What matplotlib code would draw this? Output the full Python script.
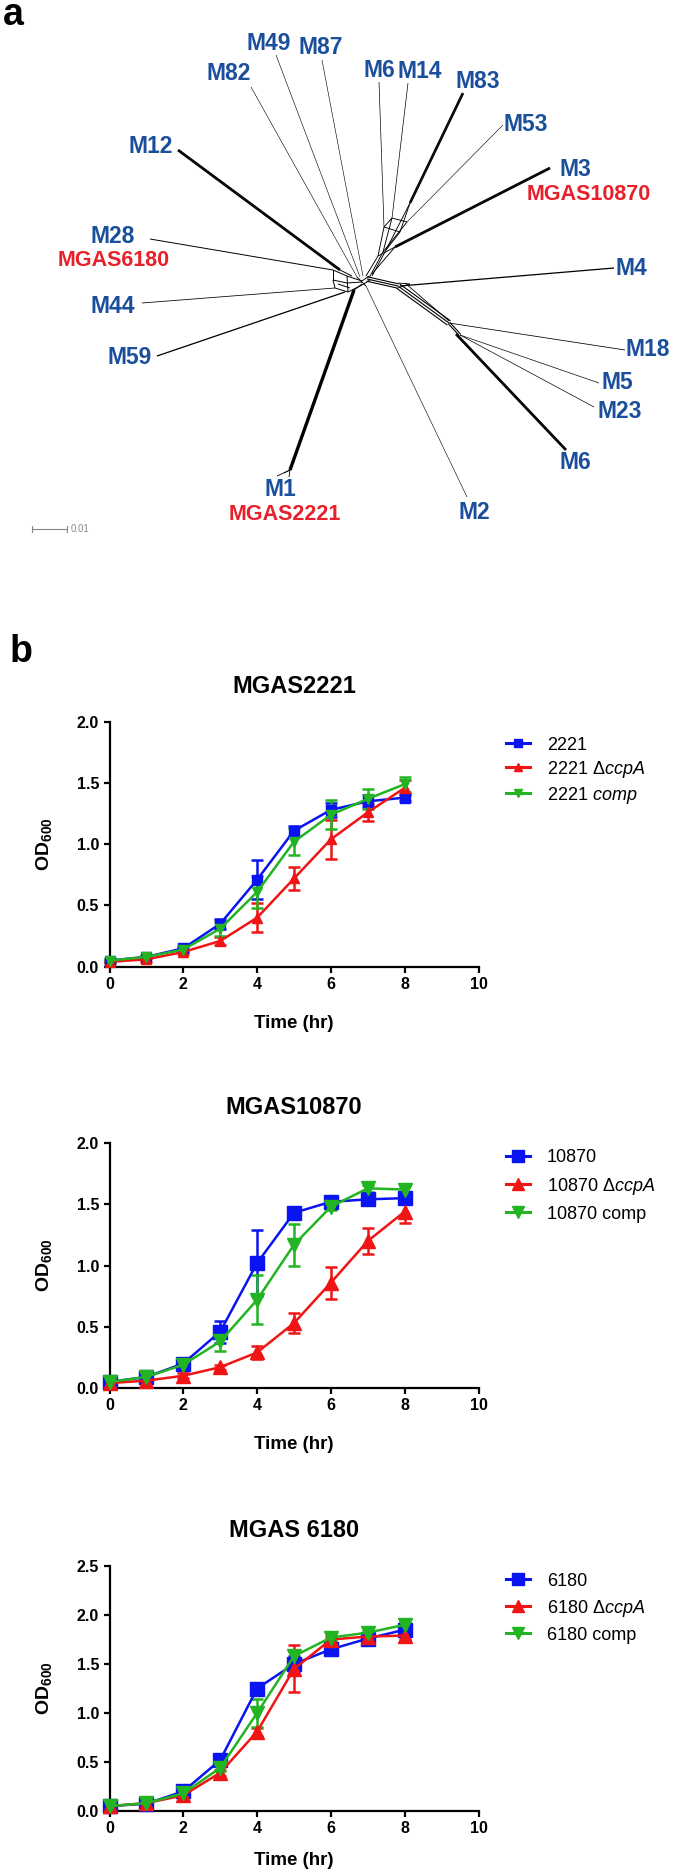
import matplotlib
matplotlib.use('Agg')
import matplotlib.pyplot as plt
import numpy as np

plt.rcParams['font.family'] = ['Liberation Sans', 'DejaVu Sans']
plt.rcParams['mathtext.fontset'] = 'custom'
plt.rcParams['mathtext.rm'] = 'Liberation Sans'
plt.rcParams['mathtext.it'] = 'Liberation Sans:italic'
plt.rcParams['mathtext.bf'] = 'Liberation Sans:bold'

# ---- panel a : split network (figure pixel coords) ----
tip_names = ['M12', 'M28', 'M44', 'M59', 'M1', 'M2', 'M49', 'M82', 'M87', 'M6', 'M14',
             'M83', 'M53', 'M3', 'M4', 'M18', 'M5', 'M23', 'M6']
tip_x = [178, 150, 142, 157, 290, 467, 276, 251, 322, 379, 408, 463, 503, 550, 614, 625, 599, 594, 566]
tip_y = [150, 239, 303, 356, 470, 497, 55, 87, 60, 82, 83, 93, 125, 168, 268, 350, 383, 407, 450]
join_x = [340, 333, 335, 345, 354, 366, 360, 357, 363, 384, 392, 410, 407, 395, 400, 449, 460, 460, 456]
join_y = [270, 270, 288, 292, 290, 286, 277, 277, 276, 227, 218, 203, 222, 247, 286, 323, 335, 335, 334]
label_x = [151, 113, 113, 130, 280, 474, 269, 229, 321, 379, 420, 478, 526, 575, 631, 648, 617, 620, 575]
label_y = [146, 236, 306, 357, 489, 512, 43, 73, 47, 70, 71, 81, 124, 169, 268, 349, 382, 411, 462]
strain_names = ['MGAS10870', 'MGAS6180', 'MGAS2221']
strain_x = [589, 114, 285]
strain_y = [194, 260, 514]

edge_lw = [1.6, 1.0, 0.8, 1.3, 2.2, 0.6, 0.6, 0.6, 0.6, 0.7, 0.7, 1.5, 0.6, 1.6, 1.3, 0.8, 0.7, 0.7, 1.6]

# ---- panel b : growth curves ----
hours = [0, 1, 2, 3, 4, 5, 6, 7, 8]

wt_2221 = [0.05, 0.08, 0.15, 0.35, 0.71, 1.11, 1.28, 1.35, 1.38]
wt_2221_sd = [0.01, 0.01, 0.02, 0.04, 0.16, 0.04, 0.06, 0.05, 0.03]
ccpa_2221 = [0.04, 0.06, 0.12, 0.21, 0.40, 0.72, 1.04, 1.26, 1.46]
ccpa_2221_sd = [0.01, 0.02, 0.02, 0.03, 0.12, 0.09, 0.16, 0.07, 0.06]
comp_2221 = [0.05, 0.08, 0.14, 0.31, 0.61, 1.02, 1.24, 1.37, 1.49]
comp_2221_sd = [0.01, 0.01, 0.02, 0.06, 0.13, 0.11, 0.12, 0.08, 0.06]

wt_10870 = [0.05, 0.09, 0.20, 0.46, 1.02, 1.43, 1.52, 1.54, 1.55]
wt_10870_sd = [0.01, 0.02, 0.03, 0.09, 0.27, 0.03, 0.03, 0.03, 0.04]
ccpa_10870 = [0.04, 0.06, 0.10, 0.17, 0.29, 0.53, 0.86, 1.20, 1.44]
ccpa_10870_sd = [0.01, 0.01, 0.02, 0.02, 0.05, 0.08, 0.13, 0.11, 0.09]
comp_10870 = [0.05, 0.09, 0.19, 0.38, 0.72, 1.17, 1.48, 1.63, 1.62]
comp_10870_sd = [0.01, 0.02, 0.02, 0.08, 0.20, 0.17, 0.03, 0.03, 0.03]

wt_6180 = [0.05, 0.075, 0.20, 0.52, 1.25, 1.50, 1.65, 1.76, 1.85]
wt_6180_sd = [0.01, 0.01, 0.02, 0.05, 0.05, 0.08, 0.05, 0.05, 0.06]
ccpa_6180 = [0.05, 0.08, 0.16, 0.39, 0.81, 1.45, 1.75, 1.78, 1.79]
ccpa_6180_sd = [0.01, 0.01, 0.02, 0.03, 0.04, 0.24, 0.03, 0.03, 0.03]
comp_6180 = [0.05, 0.08, 0.18, 0.44, 1.00, 1.58, 1.77, 1.82, 1.90]
comp_6180_sd = [0.01, 0.01, 0.02, 0.03, 0.14, 0.05, 0.03, 0.03, 0.03]

BLUE_LBL = '#1b4f9c'
RED_LBL = '#e8202b'
C_WT = '#0a14f0'
C_KO = '#f01414'
C_COMP = '#22b422'

fig = plt.figure(figsize=(6.75, 18.69), dpi=100)

# tree canvas in pixel units
ta = fig.add_axes([0, 0, 1, 1])
ta.set_xlim(0, 675)
ta.set_ylim(1869, 0)
ta.axis('off')


def edge(p, q, lw, n=1, gap=1.6):
    p = np.array(p, float)
    q = np.array(q, float)
    d = q - p
    nrm = np.array([-d[1], d[0]]) / np.hypot(*d)
    for k in range(n):
        off = (k - (n - 1) / 2) * gap * nrm
        ta.plot([p[0] + off[0], q[0] + off[0]], [p[1] + off[1], q[1] + off[1]],
                color='black', lw=lw, solid_capstyle='butt')


for i in range(len(tip_names)):
    n = 2 if edge_lw[i] > 1.4 else 1
    edge((tip_x[i], tip_y[i]), (join_x[i], join_y[i]), edge_lw[i] * 0.7, n=n, gap=1.2)

# central boxes
for a, b in [((333, 270), (347, 276)), ((347, 276), (362, 281)), ((335, 288), (348, 292)),
             ((348, 292), (362, 285)), ((333, 280), (335, 288)), ((333, 270), (333, 280)),
             ((347, 276), (348, 292)), ((333, 280), (347, 283)), ((347, 283), (362, 282)),
             ((340, 270), (352, 276)), ((354, 290), (362, 284)), ((362, 281), (369, 276)),
             ((357, 277), (366, 286)), ((362, 285), (370, 280)), ((338, 284), (350, 288))]:
    edge(a, b, 0.7)
# upper web
for a, b in [((366, 276), (378, 256)), ((369, 278), (383, 252)), ((372, 276), (386, 250)),
             ((378, 256), (384, 227)), ((383, 252), (392, 218)), ((386, 250), (410, 203)),
             ((383, 252), (407, 222)), ((384, 227), (392, 218)), ((392, 218), (407, 222)),
             ((378, 256), (395, 247)), ((372, 274), (395, 247)), ((386, 250), (400, 232)),
             ((384, 227), (400, 232)), ((400, 232), (410, 203))]:
    edge(a, b, 0.65)
# right bundle
edge((367, 279), (398, 286), 0.8, n=3, gap=2.2)
edge((398, 286), (449, 323), 0.8, n=3, gap=2.6)
edge((405, 283), (449, 321), 0.6)
edge((449, 323), (460, 335), 0.8, n=2, gap=2.0)
edge((398, 283), (410, 284), 0.6)
edge((398, 288), (410, 284), 0.6)
# M1 fork
for dx, dy in [(-13, 6), (-6, 3), (-1, 7)]:
    edge((290, 470), (290 + dx, 470 + dy), 0.6)

for i, name in enumerate(tip_names):
    ta.text(label_x[i], label_y[i], name, color=BLUE_LBL, fontsize=16.5, fontweight='bold',
            ha='center', va='center')
for i, name in enumerate(strain_names):
    ta.text(strain_x[i], strain_y[i], name, color=RED_LBL, fontsize=15.5, fontweight='bold',
            ha='center', va='center')

# scale bar
ta.plot([32, 67], [529, 529], color='#888888', lw=0.8)
ta.plot([32, 32], [526, 532], color='#888888', lw=0.8)
ta.plot([67, 67], [526, 532], color='#888888', lw=0.8)
ta.text(71, 529, '0.01', color='#888888', fontsize=7, va='center', ha='left')

ta.text(3, 25, 'a', fontsize=27, fontweight='bold', va='baseline', ha='left')
ta.text(10, 662, 'b', fontsize=27, fontweight='bold', va='baseline', ha='left')

# ---- growth panels ----
panels = [
    ('MGAS2221', 966.7, 2.0, [wt_2221, ccpa_2221, comp_2221], [wt_2221_sd, ccpa_2221_sd, comp_2221_sd],
     ['2221', r'2221 $\mathit{Δccp A}$', r'2221 $\mathit{comp}$'], 7, 747, 26, 48),
    ('MGAS10870', 1388, 2.0, [wt_10870, ccpa_10870, comp_10870], [wt_10870_sd, ccpa_10870_sd, comp_10870_sd],
     ['10870', r'10870 $\mathit{Δccp A}$', '10870 comp'], 10, 1160, 30, 48),
    ('MGAS 6180', 1811, 2.5, [wt_6180, ccpa_6180, comp_6180], [wt_6180_sd, ccpa_6180_sd, comp_6180_sd],
     ['6180', r'6180 $\mathit{Δccp A}$', '6180 comp'], 10, 1583, 29, 41),
]
markers = ['s', '^', 'v']
colors = [C_WT, C_KO, C_COMP]

for title, ybot, ymax, series, sds, labels, ms, row1, spacing, xlab_off in panels:
    ax = fig.add_axes([109.5 / 675, (1869 - ybot) / 1869, 369 / 675, 245 / 1869])
    ax.patch.set_alpha(0)
    handles = []
    order = [0, 1, 2] if title == 'MGAS2221' else [1, 2, 0]
    for k in order:
        ax.errorbar(hours, series[k], yerr=sds[k], fmt='none', ecolor=colors[k], elinewidth=1.8,
                    capsize=4, capthick=1.8, clip_on=False, zorder=2 + k * 0.1)
        ax.plot(hours, series[k], color=colors[k], marker=markers[k], ms=ms, lw=1.8,
                clip_on=False, zorder=3 + k * 0.1)
    for k in range(3):
        ln = matplotlib.lines.Line2D([], [], color=colors[k], marker=markers[k],
                                     ms=ms * 0.85, lw=2.2, label=labels[k])
        handles.append(ln)
    ax.set_xlim(0, 10)
    ax.set_ylim(0, ymax)
    ax.set_xticks([0, 2, 4, 6, 8, 10])
    yt = np.arange(0, ymax + 0.01, 0.5)
    ax.set_yticks(yt)
    ax.set_yticklabels(['%.1f' % v for v in yt])
    for s in ['top', 'right']:
        ax.spines[s].set_visible(False)
    for s in ['left', 'bottom']:
        ax.spines[s].set_linewidth(1.6)
    ax.tick_params(direction='out', length=4.5, width=1.6, pad=3, labelsize=11.5)
    for t in ax.get_xticklabels() + ax.get_yticklabels():
        t.set_fontweight('bold')
    ax.set_title(title, fontsize=17, fontweight='bold', pad=21)
    ax.set_xlabel('Time (hr)', fontsize=13.5, fontweight='bold')
    ax.xaxis.set_label_coords(0.5, -xlab_off / 245)
    ax.set_ylabel(r'OD$_{\mathbf{600}}$', fontsize=14, fontweight='bold')
    ax.yaxis.set_label_coords(-0.15, 0.5)
    ax.legend(handles=handles, loc='upper left', bbox_to_anchor=(506 / 675, 1 - (row1 - 10.5) / 1869),
              bbox_transform=fig.transFigure, frameon=False, fontsize=13, handlelength=1.35,
              handletextpad=0.9, borderpad=0, borderaxespad=0,
              labelspacing=(spacing - 21) / 18)

fig.savefig('out.png', dpi=100)
